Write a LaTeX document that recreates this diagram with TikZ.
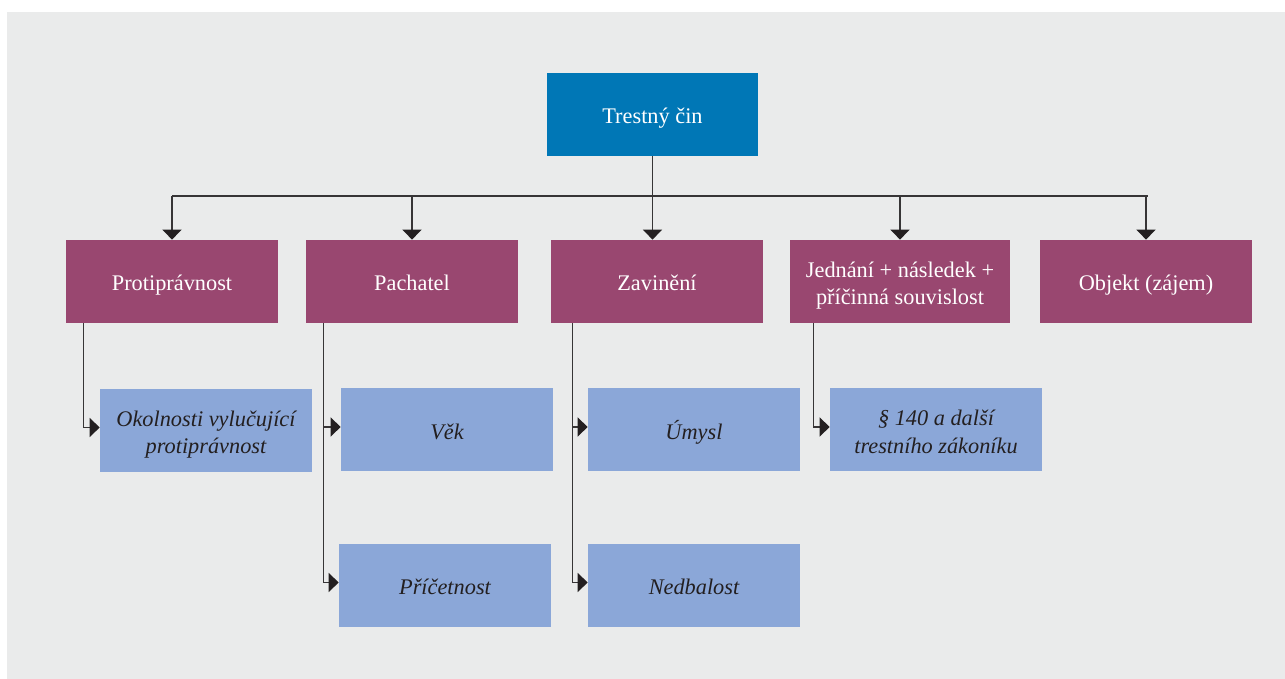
\documentclass[tikz,border=0pt]{standalone}
\usepackage{fontspec}
\setmainfont{Liberation Serif}
\usetikzlibrary{arrows.meta}

\definecolor{bgGray}{RGB}{234,235,235}
\definecolor{topBlue}{RGB}{0,119,182}
\definecolor{mainPurple}{RGB}{153,71,112}
\definecolor{subBlue}{RGB}{139,167,216}
\definecolor{lineGray}{RGB}{55,53,54}
\definecolor{tipBlack}{RGB}{35,31,32}

\begin{document}
\begin{tikzpicture}[
		box/.style={minimum width=4.24cm, minimum height=1.66cm, inner sep=0pt, align=center, text height=0.48cm, text depth=0.1cm, font=\fontsize{12.7}{15.5}\selectfont},
		twolines/.style={text height=1.0cm, text depth=0.074cm},
		topbox/.style={box, fill=topBlue, text=white},
		mainbox/.style={box, fill=mainPurple, text=white},
		subbox/.style={box, fill=subBlue, text=tipBlack, font=\fontsize{12.7}{15.5}\selectfont\itshape},
		wire/.style={draw=lineGray, line width=0.85pt},
		conn/.style={wire, -{Triangle[width=0.38cm, length=0.2cm, color=tipBlack]}}
	]
		%page and background
		\useasboundingbox (0,0) rectangle (25.7,13.58);
		\fill [bgGray] (0.14,0) rectangle (25.7,13.34);
		
		%definition of rows
		\def\yTOP{11.29};
		\def\yMAIN{7.95};
		\def\ySUBA{4.98};
		\def\ySUBB{1.87};
		
		%top box
		\node [topbox, minimum width=4.22cm] (trest) at (13.05,\yTOP) {Trestný čin};
		
		%main boxes
		\node [mainbox] (prot) at (3.44,\yMAIN) {Protiprávnost};
		\node [mainbox] (pach) at (8.24,\yMAIN) {Pachatel};
		\node [mainbox] (zav) at (13.14,\yMAIN) {Zavinění};
		\node [mainbox, twolines, minimum width=4.4cm] (jedn) at (18.0,\yMAIN) {Jednání + následek +\\příčinná souvislost};
		\node [mainbox] (obj) at (22.92,\yMAIN) {Objekt (zájem)};
		
		%sub boxes
		\node [subbox, twolines] (okol) at (4.12,4.97) {Okolnosti vylučující\\protiprávnost};
		\node [subbox] (vek) at (8.94,\ySUBA) {Věk};
		\node [subbox] (umysl) at (13.88,\ySUBA) {Úmysl};
		\node [subbox, twolines] (parag) at (18.72,\ySUBA) {§ 140 a další\\trestního zákoníku};
		\node [subbox] (pricet) at (8.9,\ySUBB) {Příčetnost};
		\node [subbox] (nedb) at (13.88,\ySUBB) {Nedbalost};
		
		%bus below the top box
		\coordinate (busL) at (3.44,9.66);
		\coordinate (busR) at (22.96,9.66);
		\draw [wire] (busL) -- (busR);
		\draw [conn] (trest.south) -- (trest.south |- zav.north);
		\foreach \n in {prot,pach,jedn,obj}
			\draw [conn] (\n.north |- busL) -- (\n.north);
		
		%branches to the sub boxes
		\draw [conn] ([xshift=0.36cm]prot.south west) |- ([yshift=0.06cm]okol.west);
		\draw [conn] ([xshift=0.36cm]pach.south west) |- ([yshift=0.06cm]vek.west);
		\draw [conn] ([xshift=0.36cm]pach.south west) |- ([yshift=0.06cm]pricet.west);
		\draw [conn] ([xshift=0.44cm]zav.south west) |- ([yshift=0.06cm]umysl.west);
		\draw [conn] ([xshift=0.44cm]zav.south west) |- ([yshift=0.06cm]nedb.west);
		\draw [conn] ([xshift=0.48cm]jedn.south west) |- ([yshift=0.06cm]parag.west);
	\end{tikzpicture}
\end{document}
